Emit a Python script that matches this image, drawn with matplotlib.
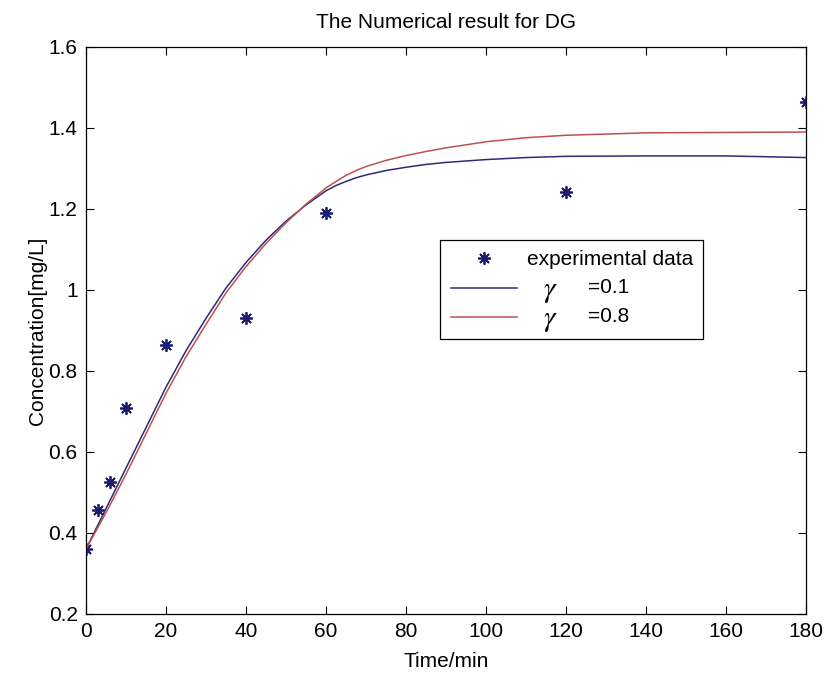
import matplotlib
matplotlib.use("Agg")
import matplotlib.pyplot as plt

plt.rcParams['font.family'] = ['Liberation Sans', 'DejaVu Sans']
plt.rcParams['mathtext.fontset'] = 'stix'

# experimental data
t_exp = [0, 3, 6, 10, 20, 40, 60, 120, 180]
c_exp = [0.36, 0.456, 0.525, 0.709, 0.865, 0.931, 1.19, 1.243, 1.464]

# model curves
t_model = [0, 5, 10, 15, 20, 25, 30, 35, 40, 45, 50, 55, 60, 62.5, 65, 67.5,
           70, 75, 80, 85, 90, 100, 110, 120, 140, 160, 180]
c_g01 = [0.36, 0.46, 0.56, 0.66, 0.76, 0.85, 0.93, 1.005, 1.068, 1.123, 1.170,
         1.210, 1.245, 1.258, 1.268, 1.277, 1.284, 1.295, 1.303, 1.310, 1.315,
         1.322, 1.327, 1.330, 1.331, 1.331, 1.327]
c_g08 = [0.36, 0.45, 0.545, 0.645, 0.745, 0.835, 0.915, 0.993, 1.058, 1.115,
         1.166, 1.212, 1.252, 1.268, 1.283, 1.295, 1.305, 1.320, 1.332, 1.342,
         1.351, 1.366, 1.376, 1.382, 1.388, 1.389, 1.390]

gamma_values = ['0.1', '0.8']
exp_label = 'experimental data'
xticks = [0, 20, 40, 60, 80, 100, 120, 140, 160, 180]
yticks = [0.2, 0.4, 0.6, 0.8, 1.0, 1.2, 1.4, 1.6]
yticklabels = ['0.2', '0.4', '0.6', '0.8', '1', '1.2', '1.4', '1.6']

fig = plt.figure(figsize=(8.25, 6.75), dpi=100)
ax = fig.add_axes([0.1042, 0.0904, 0.873, 0.840])

h0, = ax.plot(t_exp, c_exp, linestyle='none', marker=(8, 2, 0), markersize=9,
              markeredgewidth=1.3, color='#1c1c6e')
h1, = ax.plot(t_model, c_g01, color='#2b2b78', lw=1.1)
h2, = ax.plot(t_model, c_g08, color='#c05050', lw=1.1)

ax.set_xlim(0, 180)
ax.set_ylim(0.2, 1.6)
ax.set_xticks(xticks)
ax.set_yticks(yticks)
ax.set_yticklabels(yticklabels)
ax.tick_params(direction='in', top=True, right=True, length=6, width=0.8,
               labelsize=15, pad=6)
for s in ax.spines.values():
    s.set_linewidth(0.9)

ax.set_title('The Numerical result for DG', fontsize=15, pad=14)
ax.set_xlabel('Time/min', fontsize=15, labelpad=8)
ax.set_ylabel('Concentration[mg/L]', fontsize=15, labelpad=1)

leg = ax.legend([h0, h1, h2], [exp_label, ' ', ' '],
                loc='upper left', bbox_to_anchor=(0.4917, 0.6596),
                borderaxespad=0, fancybox=False, framealpha=1,
                edgecolor='black', fontsize=15, handlelength=3.2,
                handletextpad=0.45, borderpad=0.5, labelspacing=0.5)
leg.get_frame().set_linewidth(0.9)

# gamma rows: large serif gamma followed by "=value", aligned to label column
fig.canvas.draw()
W, H = fig.bbox.width, fig.bbox.height
x_text = leg.get_texts()[0].get_window_extent().x0
for hl, gv in zip(leg.legend_handles[1:], gamma_values):
    lb = hl.get_window_extent()
    yc = (lb.y0 + lb.y1) / 2
    fig.text((x_text + 24) / W, (yc - 3) / H, r'$\gamma$', fontsize=21,
             ha='center', va='center', zorder=10)
    fig.text((x_text + 61) / W, yc / H, '=' + gv, fontsize=15,
             ha='left', va='center', zorder=10)

fig.savefig('out.png', dpi=100)
